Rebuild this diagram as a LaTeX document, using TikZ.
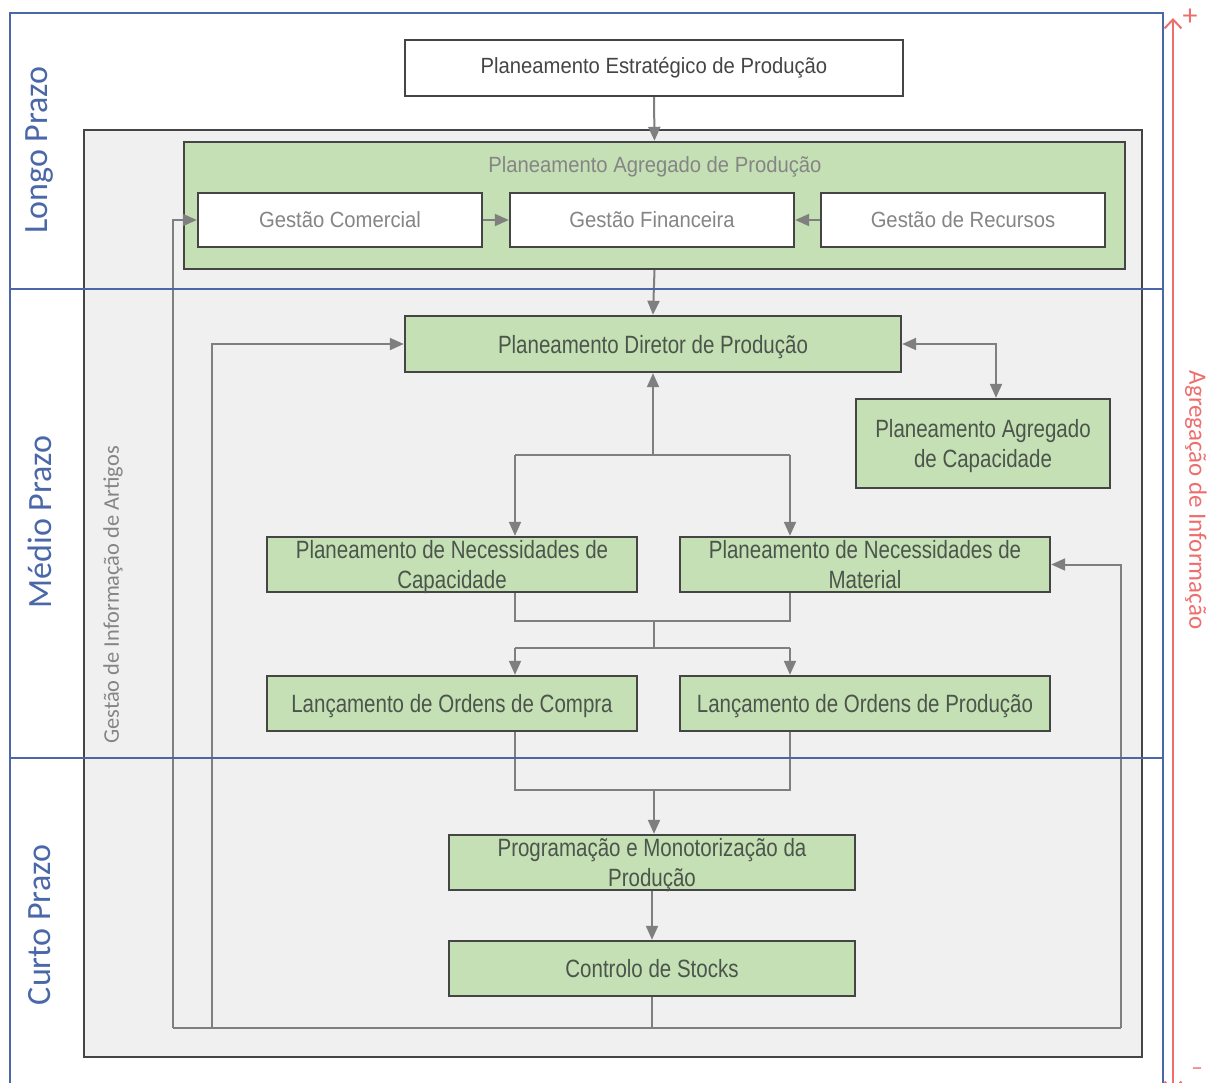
\documentclass[tikz,border=0pt]{standalone}
\usepackage{fontspec}
\setmainfont{Carlito}
\newfontfamily\boxfont[FakeStretch=0.82]{Liberation Sans}
\newfontfamily\lightfont[FakeStretch=0.92]{Liberation Sans}
\usetikzlibrary{arrows.meta}

\definecolor{frameblue}{HTML}{4A67A8}
\definecolor{panelgray}{HTML}{F0F0F0}
\definecolor{boxgreen}{HTML}{C5E0B4}
\definecolor{edgegray}{HTML}{454545}
\definecolor{linkgray}{HTML}{7F7F7F}
\definecolor{infored}{HTML}{EE6E6E}
\definecolor{darktext}{HTML}{4C554C}
\definecolor{softtext}{HTML}{858585}

\tikzset{
  greenbox/.style={draw=edgegray, line width=1.2pt, fill=boxgreen, text=darktext,
    font=\boxfont\fontsize{12.5}{15}\selectfont, align=center, inner sep=0pt, text depth=0pt},
  whitebox/.style={draw=edgegray, line width=1.2pt, fill=white, text=softtext,
    font=\lightfont\fontsize{11}{13}\selectfont, align=center, inner sep=0pt},
  link/.style={draw=linkgray, line width=1pt},
  arr/.style={link, -{Triangle[length=7pt,width=6pt]}},
  darr/.style={link, {Triangle[length=7pt,width=6pt]}-{Triangle[length=7pt,width=6pt]}},
  sidelabel/.style={text=frameblue, font=\fontsize{17}{20}\selectfont, rotate=90},
}

\begin{document}
\begin{tikzpicture}[x=0.5pt, y=-0.5pt]
\useasboundingbox (0,0) rectangle (1212,1083);
\clip (0,0) rectangle (1212,1083);

% information management panel
\draw[draw=edgegray, line width=1.2pt, fill=panelgray] (84,130) rectangle (1142,1057);
\node[text=softtext, font=\fontsize{11.2}{13}\selectfont, rotate=90] (artigos) at (113,595) {Gestão de Informação de Artigos};

% strategic level
\node[whitebox, text=edgegray, minimum width=249pt, minimum height=28pt] (pep) at (654,68) {Planeamento Estratégico de Produção};

% aggregate production planning group
\node[draw=edgegray, line width=1.2pt, fill=boxgreen, minimum width=470.5pt, minimum height=63.5pt, inner sep=0pt] (pap) at (654.5,205.5) {};
\node[text=softtext, font=\lightfont\fontsize{11}{13}\selectfont] (paptitle) at (655,167) {Planeamento Agregado de Produção};
\node[whitebox, minimum width=142pt, minimum height=27pt] (com) at (340,220) {Gestão Comercial};
\node[whitebox, minimum width=142pt, minimum height=27pt] (fin) at (652,220) {Gestão Financeira};
\node[whitebox, minimum width=142pt, minimum height=27pt] (rec) at (963,220) {Gestão de Recursos};

% medium term
\node[greenbox, minimum width=248pt, minimum height=28pt] (pdp) at (653,344) {Planeamento Diretor de Produção};
\node[greenbox, minimum width=127pt, minimum height=44.5pt] (pac) at (983,443.5) {Planeamento Agregado\\de Capacidade};
\node[greenbox, minimum width=185pt, minimum height=27.5pt] (pnc) at (452,564.5) {Planeamento de Necessidades de\\Capacidade};
\node[greenbox, minimum width=185pt, minimum height=27.5pt] (pnm) at (865,564.5) {Planeamento de Necessidades de\\Material};
\node[greenbox, minimum width=185pt, minimum height=27.5pt] (loc) at (452,703.5) {Lançamento de Ordens de Compra};
\node[greenbox, minimum width=185pt, minimum height=27.5pt] (lop) at (865,703.5) {Lançamento de Ordens de Produção};

% short term
\node[greenbox, minimum width=203pt, minimum height=27.5pt] (pmp) at (652,862.5) {Programação e Monotorização da\\Produção};
\node[greenbox, minimum width=203pt, minimum height=27.5pt] (cst) at (652,968.5) {Controlo de Stocks};

% junction points
\coordinate (jl) at (515,455);
\coordinate (jr) at (790,455);
\coordinate (m1) at (654,621);
\coordinate (s1) at (654,648);
\coordinate (m2) at (654,790);
\coordinate (fb) at (654,1028);
\coordinate (fbl) at (173,1028);
\coordinate (fbd) at (212,1028);
\coordinate (fbr) at (1121,1028);

% connectors
\draw[arr] (pep.south) -- (pap.north);
\draw[arr] (com.east) -- (fin.west);
\draw[arr] (rec.west) -- (fin.east);
\draw[arr] (pap.south) -- (pdp.north);
\draw[darr] (pdp.east) -| ([xshift=6.5pt]pac.north);

\draw[link] (jl) -- (jr);
\draw[arr] (pdp.south |- jl) -- (pdp.south);
\draw[arr] (jl) -- (jl |- pnc.north);
\draw[arr] (jr) -- (jr |- pnm.north);

\draw[link] (jl |- pnc.south) |- (m1) -| (jr |- pnm.south);
\draw[link] (m1) -- (s1);
\draw[link] (jl |- s1) -- (jr |- s1);
\draw[arr] (jl |- s1) -- (jl |- loc.north);
\draw[arr] (jr |- s1) -- (jr |- lop.north);

\draw[link] (jl |- loc.south) |- (m2) -| (jr |- lop.south);
\draw[arr] (m2) -- (m2 |- pmp.north);
\draw[arr] (pmp.south) -- (cst.north);

\draw[link] (cst.south) -- (cst.south |- fb);
\draw[link] (fbl) -- (fbr);
\draw[arr] (fbr) |- (pnm.east);
\draw[arr] (fbl) |- (com.west);
\draw[arr] (fbd) |- (pdp.west);

% time horizons
\draw[frameblue, line width=1pt] (10,13) rectangle (1163,1110);
\draw[frameblue, line width=1pt] (10,289) -- (1163,289);
\draw[frameblue, line width=1pt] (10,758) -- (1163,758);
\node[sidelabel] (longo) at (40,150) {Longo Prazo};
\node[sidelabel] (medio) at (40,522) {Médio Prazo};
\node[sidelabel] (curto) at (40,925) {Curto Prazo};

% information aggregation axis
\draw[infored, line width=1pt, {Straight Barb[length=4.5pt,width=8.5pt]}-{Straight Barb[length=4.5pt,width=8.5pt]}] (1173,1092) -- (1173,18);
\node[text=infored, font=\fontsize{15}{17}\selectfont] (plus) at (1190,17) {+};
\node[text=infored, font=\fontsize{11}{13}\selectfont] (minus) at (1197,1072) {−};
\node[text=infored, font=\fontsize{12.5}{15}\selectfont, rotate=-90] (agreg) at (1196,500) {Agregação de Informação};
\end{tikzpicture}
\end{document}
